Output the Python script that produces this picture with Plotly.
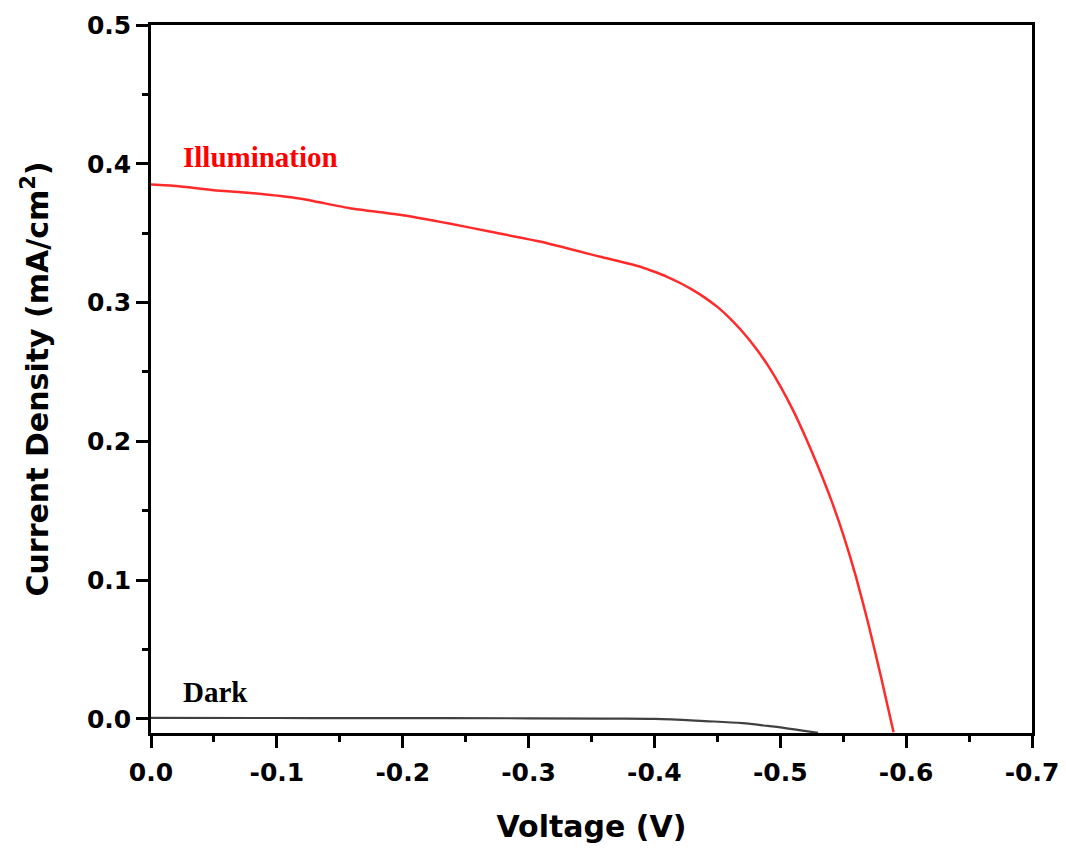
import plotly.graph_objects as go

# Illumination J-V curve
illum_v = [0.0, -0.02, -0.05, -0.079, -0.118, -0.158, -0.2, -0.237, -0.27, -0.309, -0.357,
           -0.39, -0.40, -0.41, -0.42, -0.43, -0.44, -0.45, -0.46, -0.47, -0.48, -0.49,
           -0.50, -0.51, -0.52, -0.53, -0.54, -0.55, -0.56, -0.57, -0.58, -0.59]
illum_j = [0.385, 0.384, 0.381, 0.379, 0.375, 0.368, 0.363, 0.357, 0.351, 0.344, 0.333,
           0.3255, 0.3222, 0.3186, 0.3143, 0.3093, 0.3036, 0.2969, 0.2887, 0.2790, 0.2678, 0.2549,
           0.2399, 0.2227, 0.2031, 0.1819, 0.1589, 0.1329, 0.1029, 0.0684, 0.0304, -0.0096]

# Dark J-V curve
dark_v = [0.0, -0.1, -0.2, -0.3, -0.36, -0.4, -0.44, -0.47, -0.49, -0.5, -0.515, -0.53]
dark_j = [0.0008, 0.0007, 0.0006, 0.0005, 0.0003, 0.0001, -0.0015, -0.003, -0.005, -0.006, -0.008, -0.010]

x_tickvals = [0.0, -0.1, -0.2, -0.3, -0.4, -0.5, -0.6, -0.7]
x_ticktext = ["0.0", "-0.1", "-0.2", "-0.3", "-0.4", "-0.5", "-0.6", "-0.7"]
y_tickvals = [0.0, 0.1, 0.2, 0.3, 0.4, 0.5]
y_ticktext = ["0.0", "0.1", "0.2", "0.3", "0.4", "0.5"]

SANS = "DejaVu Sans, Arial, sans-serif"
SERIF = "Liberation Serif, Times New Roman, serif"

fig = go.Figure()
fig.add_trace(go.Scatter(x=dark_v, y=dark_j, mode="lines",
                         line=dict(color="#404040", width=2.2, shape="spline"), name="Dark"))
fig.add_trace(go.Scatter(x=illum_v, y=illum_j, mode="lines",
                         line=dict(color="#ff2a2a", width=2.5, shape="spline", smoothing=0.5),
                         name="Illumination"))

def axis_style(standoff):
    return dict(showline=True, linecolor="black", linewidth=2.5, mirror=True,
                ticks="outside", ticklen=12, tickwidth=2.5, tickcolor="black",
                showgrid=False, zeroline=False, automargin=False,
                ticklabelstandoff=standoff,
                tickfont=dict(family=SANS, size=25, color="black", weight="bold"),
                minor=dict(ticks="outside", ticklen=6, tickwidth=2.5, tickcolor="black",
                           dtick=0.05, tick0=0))

fig.update_layout(
    width=1058, height=846,
    paper_bgcolor="white", plot_bgcolor="white",
    showlegend=False,
    margin=dict(l=143, r=34, t=17, b=121),
    xaxis=dict(range=[0.0, -0.7], tickvals=x_tickvals, ticktext=x_ticktext,
               title=dict(text="Voltage (V)", standoff=31,
                          font=dict(family=SANS, size=30, color="black", weight="bold")),
               **axis_style(3)),
    yaxis=dict(range=[-0.0101, 0.5], tickvals=y_tickvals, ticktext=y_ticktext,
               title=dict(text="Current Density (mA/cm<sup>2</sup>)", standoff=30,
                          font=dict(family=SANS, size=30, color="black", weight="bold")),
               **axis_style(0)),
    font=dict(family=SANS, size=14, color="black"),
)

fig.add_annotation(x=-0.024, y=0.405, xref="x", yref="y", text="Illumination", showarrow=False,
                   xanchor="left", yanchor="middle",
                   font=dict(family=SERIF, size=29, color="#ff0000", weight="bold"))
fig.add_annotation(x=-0.024, y=0.0195, xref="x", yref="y", text="Dark", showarrow=False,
                   xanchor="left", yanchor="middle",
                   font=dict(family=SERIF, size=29, color="black", weight="bold"))

fig.write_html("out.html")
